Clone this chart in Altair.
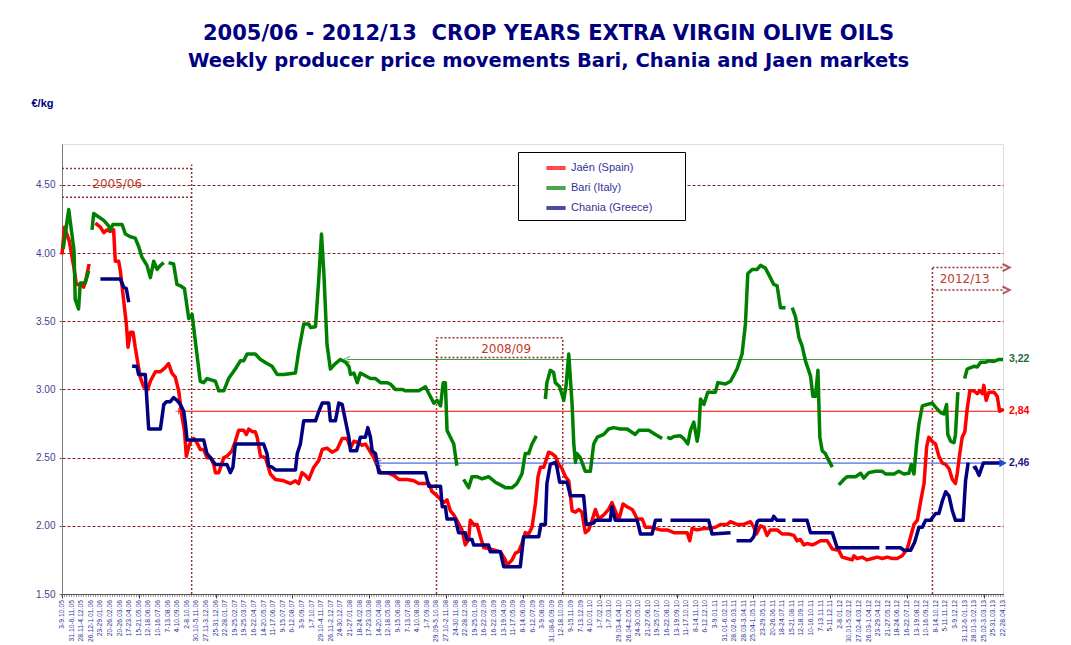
from datetime import date, timedelta
import pandas as pd
import altair as alt

# ---------------- data (week index, EUR/kg) ----------------
JAEN = [
    [(0, 3.99), (1, 4.19), (3, 4.09), (5, 3.89), (6, 3.77), (8, 3.77), (9, 3.75), (10, 3.81), (11.3, 3.92)],
    [(13.9, 4.22), (16, 4.19), (17.4, 4.15), (18.7, 4.17), (20, 4.16), (21.5, 4.17), (22.2, 3.94), (23.6, 3.94),
     (24.3, 3.87), (25.7, 3.65), (26.8, 3.48), (27.5, 3.31), (28.5, 3.42), (29.6, 3.42), (30.5, 3.31), (32.6, 3.09),
     (34, 3.02), (35.7, 3.0), (36.8, 3.06), (38.9, 3.13), (41, 3.13), (43, 3.16), (44.4, 3.19), (45.8, 3.12),
     (47.2, 3.09), (48.6, 2.99), (50, 2.80), (51, 2.70), (51.8, 2.51), (52.8, 2.58), (53.7, 2.62), (54.9, 2.64),
     (56.2, 2.61), (57.6, 2.56), (59, 2.56), (60.4, 2.50), (62, 2.50), (63.2, 2.45), (63.9, 2.39), (65.3, 2.39),
     (67.4, 2.50), (68.7, 2.51), (70.8, 2.55), (72.2, 2.62), (73.6, 2.70), (75.7, 2.70), (76.8, 2.67), (77.8, 2.71),
     (79.2, 2.69), (80.5, 2.69), (81.3, 2.65), (82.7, 2.51), (84.75, 2.50), (86.8, 2.38), (88.9, 2.34), (92.4, 2.33),
     (95.2, 2.31), (97.25, 2.33), (98.6, 2.31), (100, 2.39), (101.4, 2.37), (102.8, 2.34), (104.9, 2.43), (107, 2.48),
     (108.4, 2.56), (110.4, 2.57), (112.5, 2.54), (114.6, 2.56), (116.7, 2.64), (118.8, 2.64), (120.2, 2.57),
     (121.6, 2.62), (123.6, 2.61), (125, 2.59), (126.4, 2.60), (127.8, 2.56), (129.9, 2.50), (131.3, 2.44),
     (132.7, 2.39), (135.4, 2.39), (138.2, 2.37), (140.3, 2.34), (143.8, 2.34), (146.6, 2.33), (148.6, 2.31),
     (152.8, 2.31), (154.2, 2.25), (156.3, 2.22), (158.4, 2.18), (159, 2.17), (160.4, 2.19), (161.8, 2.11),
     (163.2, 2.08), (164.5, 2.04), (166.6, 1.97), (168, 1.86), (169.4, 1.90), (170.1, 2.04), (171.5, 2.01),
     (172.9, 2.01), (174.3, 1.92), (175.7, 1.84), (178.4, 1.83), (180.5, 1.82), (182.6, 1.81), (184.7, 1.75),
     (185.4, 1.71), (187.5, 1.75), (188.9, 1.80), (190.2, 1.81), (191.6, 1.87), (193, 1.95), (194.4, 1.94),
     (195.8, 1.99), (197.2, 2.16), (198.3, 2.36), (199.3, 2.43), (200.7, 2.43), (202, 2.50), (202.7, 2.54),
     (204.1, 2.53), (205.5, 2.51), (206.9, 2.45), (208.3, 2.42), (209.7, 2.36), (211.1, 2.33), (212.5, 2.11),
     (213.9, 2.10), (215.2, 2.12), (216.6, 2.10), (218, 1.95), (219.4, 1.97), (220.8, 2.04), (222.2, 2.12),
     (223.6, 2.05), (225.7, 2.08), (227.7, 2.12), (229.1, 2.17), (230.5, 2.11), (231.9, 2.04), (233.7, 2.16),
     (235.4, 2.14), (237.5, 2.12), (238.2, 2.10), (239.6, 2.05), (241.7, 2.05), (243, 1.99), (245.1, 1.99),
     (247.2, 1.98), (249.3, 1.97), (252.1, 1.97), (254.9, 1.95), (260.4, 1.95), (261.5, 1.89), (262.5, 1.98),
     (264.6, 1.97), (267.4, 1.98), (270.1, 1.98), (272.2, 1.99), (274.3, 2.01), (277.1, 2.01), (278.5, 2.03),
     (281.2, 2.01), (284, 2.01), (286.8, 2.03), (288.2, 1.99), (289.3, 1.94), (291, 2.00), (292.4, 1.99),
     (293.7, 1.93), (295.1, 1.97), (297.9, 1.97), (300, 1.94), (302.8, 1.94), (304.9, 1.93), (306.2, 1.89),
     (307.6, 1.90), (309, 1.86), (310.4, 1.87), (312.5, 1.86), (313.9, 1.87), (316, 1.89), (318.8, 1.89),
     (320.9, 1.83), (323.6, 1.82), (325, 1.77), (327.1, 1.76), (329.2, 1.75), (329.9, 1.78), (331.3, 1.76),
     (333.4, 1.77), (335.4, 1.75), (337.5, 1.76), (339.6, 1.77), (341.7, 1.76), (343.8, 1.77), (345.9, 1.76),
     (347.9, 1.76), (350, 1.78), (352.1, 1.83), (353.5, 1.92), (354.9, 2.01), (356.3, 2.04), (357.7, 2.18),
     (359.1, 2.31), (360.2, 2.58), (361.1, 2.65), (362.5, 2.62), (363.9, 2.60), (365.3, 2.51), (366.7, 2.46),
     (368.1, 2.45), (369.5, 2.42), (370.9, 2.34), (372.2, 2.31), (372.9, 2.38), (374, 2.53), (375, 2.65),
     (376.1, 2.69), (377.1, 2.86), (378.2, 2.99), (379.9, 2.99), (381.3, 2.97), (382.4, 2.99), (383.4, 2.97),
     (384, 3.03), (385, 2.92), (386.1, 2.98), (388.2, 2.98), (389.6, 2.95), (390.6, 2.84), (391.7, 2.85),
     (392, 2.84)],
]

BARI = [
    [(0.5, 4.03), (2.8, 4.32), (5.0, 4.02), (5.5, 3.66), (6.9, 3.59), (7.6, 3.78), (9.7, 3.78), (11.1, 3.87)],
    [(12.5, 4.17), (13.2, 4.29), (17.4, 4.24), (19.4, 4.20), (20.1, 4.17), (21.2, 4.21), (25, 4.21), (26.4, 4.14),
     (28.5, 4.12), (30.5, 4.11), (31.9, 4.05), (33.3, 3.97), (35.4, 3.91), (36.8, 3.82), (38.2, 3.94), (39.6, 3.88),
     (41, 3.91), (42.4, 3.93)],
    [(44.4, 3.93), (46.5, 3.92), (47.9, 3.77), (49.3, 3.76), (51, 3.74), (52.8, 3.52), (54.2, 3.55), (55.5, 3.36),
     (57.6, 3.06), (59, 3.05), (60.4, 3.08), (63.9, 3.06), (65.3, 2.99), (67.4, 2.99), (69.4, 3.08), (72.2, 3.15),
     (74.3, 3.21), (75.7, 3.21), (77.1, 3.26), (80.5, 3.26), (82.7, 3.22), (85.4, 3.19), (87.5, 3.17), (89.6, 3.11),
     (92.4, 3.11), (97.25, 3.12), (98.6, 3.28), (100.7, 3.48), (102.8, 3.48), (103.5, 3.455), (105.6, 3.46),
     (107, 3.82), (108.1, 4.14), (109.1, 3.85), (110.4, 3.33), (111.8, 3.15), (113.9, 3.19), (116, 3.22),
     (118.1, 3.20), (119.5, 3.17), (120.2, 3.11), (121.6, 3.12), (123, 3.05), (124.3, 3.12), (126.4, 3.10),
     (128.5, 3.08), (130.6, 3.08), (132.7, 3.05), (135.4, 3.05), (136.8, 3.04), (138.9, 3.00), (141.7, 3.00),
     (143.1, 2.99), (148.6, 2.99), (151.4, 3.02), (152.8, 2.97), (154.9, 2.90), (156.3, 2.92), (157.7, 2.88),
     (158.8, 3.05), (159.7, 3.05), (160.4, 2.70), (161.8, 2.65), (163.2, 2.60), (164.5, 2.44)],
    [(167.3, 2.34), (169.4, 2.28), (170.8, 2.36), (172.9, 2.36), (175, 2.345), (177.7, 2.36), (180.5, 2.32),
     (182.6, 2.30), (184.7, 2.28), (187.5, 2.28), (189.5, 2.31), (191.6, 2.38), (193, 2.53), (194.4, 2.53),
     (195.8, 2.60), (197.6, 2.66)],
    [(201.35, 2.93), (202, 3.05), (203.4, 3.14), (204.8, 3.125), (205.5, 3.05), (207.3, 3.02), (209, 2.92),
     (210, 3.03), (211.1, 3.26), (212.5, 2.89), (213.2, 2.60), (213.9, 2.465), (214.5, 2.53), (215.9, 2.50),
     (218, 2.40), (220.1, 2.40), (221.5, 2.60), (223, 2.65), (225.7, 2.67), (227.7, 2.71), (229.8, 2.72),
     (232.6, 2.71), (235.4, 2.71), (238.8, 2.67), (240.3, 2.70), (244.4, 2.70), (247.2, 2.67), (250, 2.64)],
    [(252.1, 2.65), (253.5, 2.64), (254.9, 2.655), (257.6, 2.66), (259, 2.64), (260.7, 2.60), (261.8, 2.70),
     (263.2, 2.76), (264.6, 2.62), (265.3, 2.70), (266, 2.93), (267.4, 2.89), (269, 2.98), (272.2, 2.98),
     (273.2, 3.05), (276.4, 3.04), (278.5, 3.06), (281.2, 3.15), (283.3, 3.26), (284.7, 3.48), (285.7, 3.85),
     (287.5, 3.88), (289.6, 3.88), (291, 3.91), (293, 3.89), (295.1, 3.82), (296.5, 3.77), (297.9, 3.76),
     (299.3, 3.60), (301.4, 3.60)],
    [(304.2, 3.60), (305.6, 3.53), (307, 3.38), (308.3, 3.32), (309.7, 3.21), (311.8, 3.10), (312.8, 2.95),
     (313.9, 2.95), (314.9, 3.14), (315.7, 2.65), (316.7, 2.55), (318, 2.53), (318.8, 2.50), (320.9, 2.43)],
    [(323.6, 2.30), (325.7, 2.34), (327.1, 2.36), (330.6, 2.36), (332.7, 2.385), (334, 2.35), (336.1, 2.39),
     (338.9, 2.40), (341.7, 2.40), (343.1, 2.38), (346.6, 2.38), (348.6, 2.40), (350.7, 2.38), (352.8, 2.385),
     (353.8, 2.45), (354.9, 2.38), (356, 2.60), (357, 2.75), (358.4, 2.88), (360.4, 2.89), (362.5, 2.90),
     (363.9, 2.87), (366, 2.83), (367.4, 2.82), (368.5, 2.89), (369, 2.67), (370.2, 2.62), (371.6, 2.61),
     (372.2, 2.67), (373.2, 2.98)],
    [(376, 3.08), (377.1, 3.15), (378.5, 3.16), (379.9, 3.17), (381.3, 3.165), (382.7, 3.20), (384.8, 3.20),
     (386.1, 3.21), (388.2, 3.205), (390.3, 3.22), (392, 3.22)],
]

CHANIA = [
    [(16, 3.81), (24.3, 3.81), (25.7, 3.75), (26.8, 3.74), (27.8, 3.64)],
    [(29.2, 3.17), (31.2, 3.17), (31.9, 3.11), (34.7, 3.11), (36.1, 2.71), (41, 2.71), (42.4, 2.89), (43.5, 2.91),
     (45.1, 2.91), (46.5, 2.94), (47.9, 2.92), (49.3, 2.89), (50.7, 2.84), (51.4, 2.75), (52.1, 2.63), (59, 2.63),
     (60.4, 2.53), (61.8, 2.50), (63.9, 2.45), (68.7, 2.45), (70.1, 2.39), (71.2, 2.43), (72.2, 2.60), (84, 2.60),
     (85.4, 2.53), (86.1, 2.44), (87.5, 2.43), (88.9, 2.41), (97.25, 2.41), (98, 2.53), (99.3, 2.60), (100.7, 2.77),
     (105.6, 2.77), (107, 2.84), (108.4, 2.90), (111.1, 2.90), (111.8, 2.77), (113.9, 2.77), (115.3, 2.90),
     (116.7, 2.89), (118.1, 2.77), (119.5, 2.65), (120.2, 2.55), (122.7, 2.55), (124.3, 2.65), (126.4, 2.65),
     (127.4, 2.72), (128.5, 2.65), (129.2, 2.55), (130.6, 2.53), (132, 2.39), (151.4, 2.39), (152.8, 2.29),
     (157.7, 2.29), (158.4, 2.14), (159.7, 2.14), (160.4, 2.05), (163.85, 2.05), (165.2, 1.95), (168, 1.95),
     (168.7, 1.90), (170.8, 1.90), (171.5, 1.86), (177.7, 1.86), (178.4, 1.81), (182.6, 1.81), (184, 1.70),
     (190.9, 1.70), (192.3, 1.92), (198.6, 1.92), (199.5, 2.01), (201.35, 2.01), (202, 2.31), (203.4, 2.45),
     (205.5, 2.465), (206.2, 2.43), (207.3, 2.32), (210.4, 2.32), (211.8, 2.22), (217.3, 2.22), (218.4, 2.01),
     (221.5, 2.02), (222.2, 2.04), (228.4, 2.04), (229.1, 2.14), (230.5, 2.04), (239.6, 2.04), (241, 1.94),
     (245.8, 1.94), (247.2, 2.04), (250, 2.04)],
    [(253.5, 2.04), (269.4, 2.04), (270.8, 1.94), (278.5, 1.95)],
    [(281, 1.89), (286.8, 1.89), (288.2, 1.92), (289.6, 2.03), (290.3, 2.04), (295.8, 2.04), (296.5, 2.07),
     (297.9, 2.04), (301.4, 2.04)],
    [(304.2, 2.04), (310.4, 2.04), (311.8, 1.95), (320.9, 1.95), (322.9, 1.84), (340.5, 1.84)],
    [(343.1, 1.84), (349.3, 1.84), (350.7, 1.82), (353.5, 1.82), (355.2, 1.88), (357, 1.99), (358.4, 1.99),
     (359.75, 2.04), (361.8, 2.04), (363.9, 2.09), (365.3, 2.09), (366.7, 2.18), (368.1, 2.25), (369.5, 2.22),
     (370.9, 2.11), (372.2, 2.04), (375.4, 2.04), (376.4, 2.33), (377.5, 2.465)],
    [(379.6, 2.42), (380.5, 2.43), (382, 2.37), (383.8, 2.46), (392, 2.46)],
]

SERIES_NAMES = ["Jaén (Spain)", "Bari (Italy)", "Chania (Greece)"]
SERIES_COLORS = ["#FF0000", "#008000", "#000080"]

# last-price reference lines: (start week, value, label, line colour, label colour)
REF_LINES = [
    (118.75, 3.22, "3,22", "#3C9A3C", "#1F6B3A"),
    (48.6, 2.84, "2,84", "#FF0000", "#FF0000"),
    (131.8, 2.46, "2,46", "#1A4FD6", "#1A1A80"),
]
LAST_WEEK = 392

# crop-year boxes
BOX_H = [(0, 54, 4.62), (0, 54, 4.41), (156, 208.6, 3.38), (156, 208.6, 3.235),
         (362.6, 392, 3.894), (362.6, 392, 3.729)]
BOX_V = [(54, 1.5, 4.65), (156, 1.5, 3.38), (208.6, 1.5, 3.38), (362.6, 1.5, 3.894)]
CROP_LABELS = [("2005/06", 23, 4.51), ("2008/09", 185, 3.30), ("2012/13", 376, 3.81)]
CHEVRONS = [(393.3, 3.894), (393.3, 3.729)]

Y_TICKS = [1.5, 2.0, 2.5, 3.0, 3.5, 4.0, 4.5]

# week tick labels (every 4th weekly observation)
START = date(2005, 10, 3)
LABEL_WEEKS = list(range(0, 393, 4))
WEEK_LABELS = []
for idx in LABEL_WEEKS:
    d1 = START + timedelta(weeks=idx + (2 if idx >= 208 else 0))
    d2 = d1 + timedelta(days=6)
    if d1.month == d2.month:
        WEEK_LABELS.append(f"{d1.day}-{d2.day}.{d2.month:02d}.{d2:%y}")
    else:
        WEEK_LABELS.append(f"{d1.day}.{d1.month:02d}-{d2.day}.{d2.month:02d}.{d2:%y}")
ALL_WEEKS = list(range(0, 393))

# ---------------- build tables ----------------
def series_df(name, segs):
    rows = []
    i = 0
    for s, seg in enumerate(segs):
        for w, v in seg:
            rows.append({"series": name, "seg": f"{name}-{s}", "i": i, "w": w, "v": v})
            i += 1
    return pd.DataFrame(rows)

X_SCALE = alt.Scale(domain=[0, LAST_WEEK], nice=False, zero=False)
Y_SCALE = alt.Scale(domain=[1.5, 4.8], nice=False, zero=False)

x_axis = alt.Axis(values=LABEL_WEEKS, labels=False, tickSize=4, tickColor="#444444",
                  domainColor="#555555", grid=False, title=None)
y_axis = alt.Axis(values=Y_TICKS, format=".2f", labelFont="Liberation Sans", labelFontSize=10,
                  labelColor="#3F3F8F", labelPadding=4, tickSize=3, tickColor="#666666",
                  domainColor="#777777", grid=True, gridColor="#8B1A1A", gridDash=[3, 2],
                  gridWidth=1, title="€/kg", titleAngle=0, titleAlign="left", titleBaseline="middle",
                  titleX=-31, titleY=-41, titleFont="Liberation Sans", titleFontSize=11,
                  titleFontWeight="bold", titleColor="#000080")

legend = alt.Legend(orient="none", legendX=456, legendY=8, title="\u00a0", titleOrient="right",
                    titleFontSize=1, titlePadding=29, fillColor="white", strokeColor="black",
                    padding=4, symbolType="stroke", symbolStrokeWidth=4, symbolSize=370,
                    symbolOffset=22, labelOffset=3, labelFont="Liberation Sans", labelFontSize=11,
                    labelColor="#333399", rowPadding=0)
color = alt.Color("series:N", scale=alt.Scale(domain=SERIES_NAMES, range=SERIES_COLORS), legend=legend)

layers = []

# crop-year boxes
hdf = pd.DataFrame([{"x": a, "x2": b, "y": v} for a, b, v in BOX_H])
vdf = pd.DataFrame([{"x": w, "y": a, "y2": b} for w, a, b in BOX_V])
box_style = dict(color="#993333", strokeDash=[2, 2], strokeWidth=1.5)
layers.append(alt.Chart(hdf).mark_rule(**box_style).encode(
    x=alt.X("x:Q", scale=X_SCALE, axis=x_axis), x2="x2:Q",
    y=alt.Y("y:Q", scale=Y_SCALE, axis=y_axis)))
layers.append(alt.Chart(vdf).mark_rule(**box_style).encode(x="x:Q", y="y:Q", y2="y2:Q"))
cdf = pd.DataFrame([{"t": t, "x": w, "y": v} for t, w, v in CROP_LABELS])
layers.append(alt.Chart(cdf).mark_text(font="DejaVu Sans", fontSize=12, color="#C0392B").encode(
    x="x:Q", y="y:Q", text="t:N"))
chev = pd.DataFrame([{"x": w, "y": v} for w, v in CHEVRONS])
layers.append(alt.Chart(chev).mark_point(shape="M-1,-1L1,0L-1,1", size=50, filled=False,
                                         color="#8B1A1A", strokeWidth=2).encode(x="x:Q", y="y:Q"))

# weekly minor ticks and week labels on the time axis
wdf = pd.DataFrame({"w": ALL_WEEKS, "b": 1.5})
layers.append(alt.Chart(wdf).mark_tick(orient="vertical", size=3, thickness=0.8, color="#444444",
                                       yOffset=1.5).encode(x="w:Q", y="b:Q"))
ldf = pd.DataFrame({"w": LABEL_WEEKS, "b": 1.5, "t": WEEK_LABELS})
layers.append(alt.Chart(ldf).mark_text(angle=270, align="right", baseline="middle",
                                       font="Liberation Sans", fontSize=6.8, color="#333399",
                                       yOffset=6).encode(x="w:Q", y="b:Q", text="t:N"))

# reference lines
rdf = pd.DataFrame([{"x": a, "x2": LAST_WEEK, "y": v, "t": t, "lc": lc, "tc": tc}
                    for a, v, t, lc, tc in REF_LINES])
layers.append(alt.Chart(rdf).mark_rule(strokeWidth=1).encode(
    x="x:Q", x2="x2:Q", y="y:Q", color=alt.Color("lc:N", scale=None)))

# price lines
for name, segs in zip(SERIES_NAMES, [JAEN, BARI, CHANIA]):
    layers.append(alt.Chart(series_df(name, segs)).mark_line(strokeWidth=3.5, strokeJoin="round").encode(
        x="w:Q", y="v:Q", color=color, detail="seg:N", order="i:Q"))

# reference markers
left_arrows = pd.DataFrame([{"x": REF_LINES[0][0], "y": REF_LINES[0][1], "c": REF_LINES[0][3]},
                            {"x": REF_LINES[2][0], "y": REF_LINES[2][1], "c": REF_LINES[2][3]}])
layers.append(alt.Chart(left_arrows).mark_point(shape="M1,-1L-1,0L1,1", size=40, filled=False,
                                                strokeWidth=1.2).encode(
    x="x:Q", y="y:Q", color=alt.Color("c:N", scale=None)))
plus = pd.DataFrame([{"x": REF_LINES[1][0], "y": REF_LINES[1][1]}])
layers.append(alt.Chart(plus).mark_point(shape="M-1,0L1,0M0,-1L0,1", size=40, filled=False,
                                         strokeWidth=1.2, color="#FF0000").encode(x="x:Q", y="y:Q"))
end_arrow = pd.DataFrame([{"x": LAST_WEEK, "y": REF_LINES[2][1]}])
layers.append(alt.Chart(end_arrow).mark_point(shape="triangle-right", size=70, filled=True,
                                              color="#1A4FD6", opacity=1).encode(x="x:Q", y="y:Q"))
layers.append(alt.Chart(rdf).mark_text(align="left", dx=6, font="Liberation Sans", fontSize=10.5,
                                       fontWeight="bold").encode(
    x="x2:Q", y="y:Q", text="t:N", color=alt.Color("tc:N", scale=None)))

chart = alt.layer(*layers).properties(
    width=941, height=450,
    autosize=alt.AutoSizeParams(type="none"),
    padding={"left": 54, "top": 136, "right": 50, "bottom": 48},
    title=alt.TitleParams(
        text="2005/06 - 2012/13\u00a0\u00a0CROP YEARS EXTRA VIRGIN OLIVE OILS",
        subtitle="Weekly producer price movements Bari, Chania and Jaen markets",
        font="DejaVu Sans", fontSize=21, fontWeight="bold", color="#000080",
        subtitleFont="DejaVu Sans", subtitleFontSize=19.5, subtitleFontWeight="bold",
        subtitleColor="#000080", subtitlePadding=8, anchor="middle", offset=27, dx=16),
).configure_view(fill="#FFFF99", stroke="#993333", strokeDash=[2, 2], strokeWidth=1.2
).configure(background="white")

chart.save("out.html", embed_options={"renderer": "svg", "actions": False})
